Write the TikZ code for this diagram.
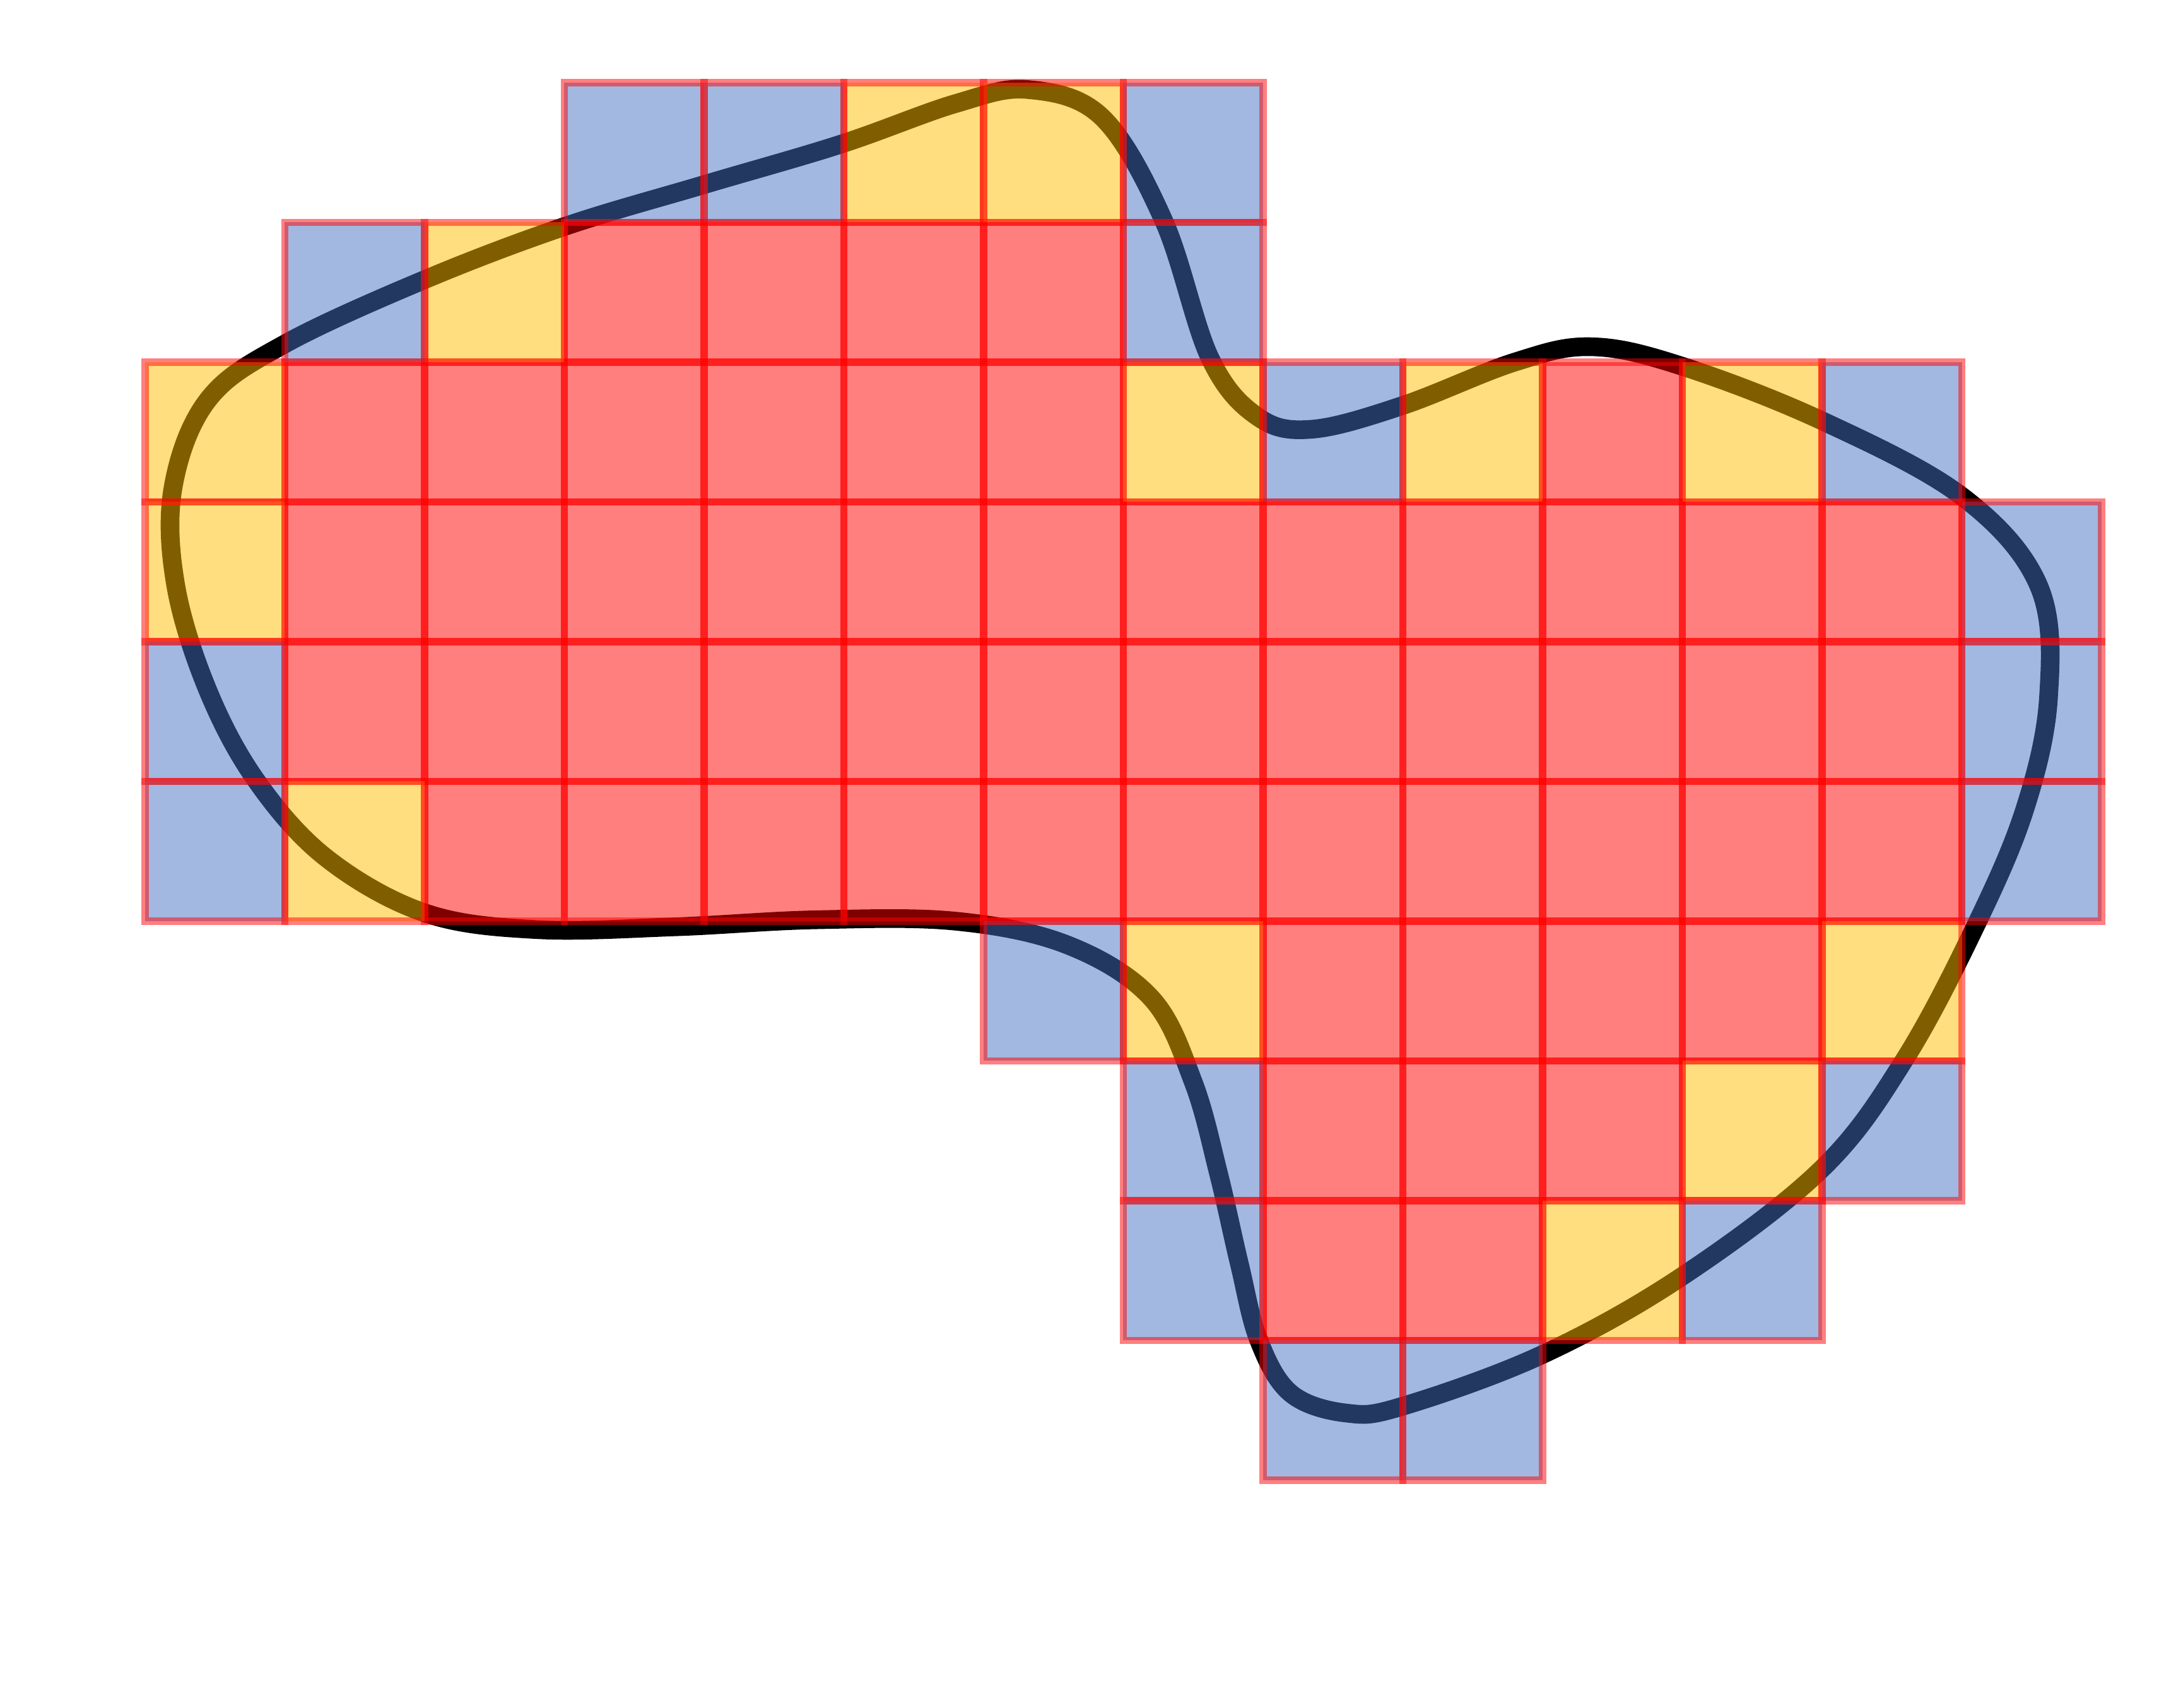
\documentclass[tikz,border=0pt]{standalone}
\usepackage{tikz}
\definecolor{cellblue}{HTML}{4571C1}
\definecolor{cellyellow}{HTML}{FFBD00}

\begin{document}
\begin{tikzpicture}[cell/.style={draw=red, line width=1.5pt, fill opacity=0.5, draw opacity=0.5}, interior/.style={cell, fill=red}, partial/.style={cell, fill=cellyellow}, touching/.style={cell, fill=cellblue}]
\useasboundingbox (-1.038,0.591) rectangle (14.411,-11.626);
% closed curve under the cells
\draw[line width=3.8pt, line join=round] plot[smooth cycle, tension=0.6] coordinates {
  (6.32,-0.05) (6.85,-0.25) (7.29,-0.99) (7.62,-1.97) (7.96,-2.39) (8.35,-2.48) (9.0,-2.31)
  (9.8,-2.0) (10.35,-1.89) (11.0,-2.03) (12.0,-2.42) (13.0,-2.96) (13.55,-3.6) (13.62,-4.4)
  (13.45,-5.2) (13.1,-6.03) (12.59,-6.99) (12.0,-7.77) (11.0,-8.54) (10.0,-9.1) (9.0,-9.47)
  (8.6,-9.52) (8.2,-9.38) (7.97,-9.0) (7.83,-8.45) (7.68,-7.8) (7.5,-7.15) (7.2,-6.55)
  (6.6,-6.17) (5.8,-6.0) (4.8,-5.99) (3.8,-6.04) (2.8,-6.06) (2.0,-5.94) (1.3,-5.55)
  (0.8,-5.0) (0.45,-4.35) (0.22,-3.6) (0.2,-2.9) (0.45,-2.27) (1.0,-1.87) (2.0,-1.41)
  (3.0,-1.03) (4.0,-0.73) (4.98,-0.44) (5.8,-0.15)};
% cells: column/row
\foreach \c/\r in {3/1,4/1,5/1,6/1, 1/2,2/2,3/2,4/2,5/2,6/2,10/2, 8/6,9/6,10/6,11/6, 8/7,9/7,10/7, 8/8,9/8}
  \draw[interior] (\c,-\r) rectangle ++(1,-1);
\foreach \r in {3,4}
  \foreach \c in {1,...,12}
    \draw[interior] (\c,-\r) rectangle ++(1,-1);
\foreach \c in {2,...,12}
  \draw[interior] (\c,-5) rectangle ++(1,-1);
\foreach \c/\r in {5/0,6/0, 2/1, 0/2,7/2,9/2,11/2, 0/3, 1/5, 7/6,12/6, 11/7, 10/8}
  \draw[partial] (\c,-\r) rectangle ++(1,-1);
\foreach \c/\r in {3/0,4/0,7/0, 1/1,7/1, 8/2,12/2, 13/3, 0/4,13/4, 0/5,13/5, 6/6, 7/7,12/7, 7/8,11/8, 8/9,9/9}
  \draw[touching] (\c,-\r) rectangle ++(1,-1);
\end{tikzpicture}
\end{document}
